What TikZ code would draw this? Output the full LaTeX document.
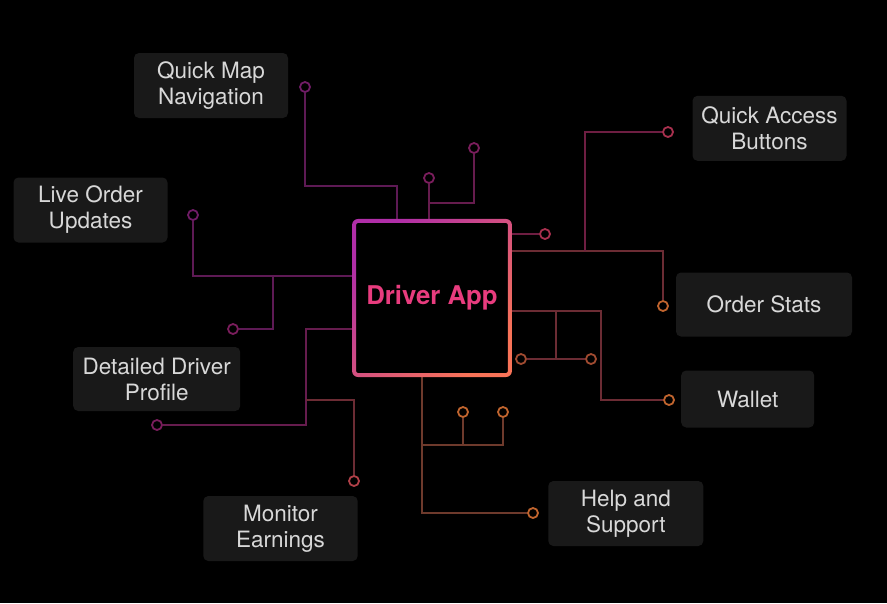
\documentclass[tikz,border=0pt]{standalone}
\usepackage{fontspec}
\setmainfont{TeX Gyre Heros}
\usetikzlibrary{calc}
\definecolor{boxbg}{HTML}{191919}
\definecolor{txt}{HTML}{D8D8D8}
\definecolor{apptxt}{HTML}{E83C7E}
\definecolor{gA}{HTML}{B02EA8}
\definecolor{gB}{HTML}{E8357D}
\definecolor{gC}{HTML}{F87358}
\definecolor{wPurple}{HTML}{5E1A55}
\definecolor{wPlum}{HTML}{661C4E}
\definecolor{wWine}{HTML}{6E1E42}
\definecolor{wRust}{HTML}{6C2C34}
\definecolor{wBrown}{HTML}{6E3A2C}
\definecolor{cPurple}{HTML}{701C66}
\definecolor{cPlum}{HTML}{7A1D5C}
\definecolor{cRed}{HTML}{A8304E}
\definecolor{cRose}{HTML}{B04048}
\definecolor{cOrange}{HTML}{C0642E}
\definecolor{cBrown}{HTML}{A04A30}
\tikzset{
  lbl/.style={fill=boxbg, rounded corners=5pt, text=txt, align=center,
    font=\fontsize{22.5}{26}\selectfont, inner sep=0pt},
  dot/.style={circle, draw=#1, line width=1.8pt, minimum size=10pt, inner sep=0pt, fill=black},
  wire/.style={draw=#1, line width=2pt}
}
\begin{document}
\begin{tikzpicture}[x=1pt,y=-1pt]
\fill[black] (0,0) rectangle (887,603);
\useasboundingbox (0,0) rectangle (887,603);

% central node
\node[minimum width=155.4pt, minimum height=153.7pt, inner sep=0pt, text=apptxt,
  font=\fontsize{25.8}{30}\selectfont\bfseries] (app) at (432,298) {Driver App};

% labels
\node[lbl, minimum width=154pt, minimum height=65pt] (qmn) at (211,85.5) {Quick Map\\Navigation};
\node[lbl, minimum width=154pt, minimum height=65pt] (lou) at (90.5,210) {Live Order\\Updates};
\node[lbl, minimum width=167pt, minimum height=64pt] (ddp) at (156.7,379) {Detailed Driver\\Profile};
\node[lbl, minimum width=154pt, minimum height=65pt] (qab) at (769.5,128.3) {Quick Access\\Buttons};
\node[lbl, minimum width=176pt, minimum height=64pt] (ost) at (764,304.5) {Order Stats};
\node[lbl, minimum width=133pt, minimum height=57pt] (wal) at (747.7,399) {Wallet};
\node[lbl, minimum width=155pt, minimum height=65pt] (has) at (625.8,513.5) {Help and\\Support};
\node[lbl, minimum width=154.4pt, minimum height=65pt] (mea) at (280.5,528.5) {Monitor\\Earnings};

% end dots
\node[dot=cPurple] (c1) at (305,87) {};
\node[dot=cPlum] (c2) at (429,178) {};
\node[dot=cPlum] (c3) at (474,148) {};
\node[dot=cRed] (c4) at (545,234) {};
\node[dot=cOrange] (c5) at (663,306) {};
\node[dot=cRed] (c6) at (668,132) {};
\node[dot=cOrange] (c7) at (669,400) {};
\node[dot=cBrown] (c8) at (521,359) {};
\node[dot=cBrown] (c9) at (591,359) {};
\node[dot=cOrange] (c10) at (533,513) {};
\node[dot=cOrange] (c11) at (463,412) {};
\node[dot=cOrange] (c12) at (503,412) {};
\node[dot=cPurple] (c13) at (193,215) {};
\node[dot=cPlum] (c14) at (233,329) {};
\node[dot=cPlum] (c15) at (157,425) {};
\node[dot=cRose] (c16) at (354,481) {};

% junction coordinates
\coordinate (j1) at (397,186);
\coordinate (j2) at (429,203);
\coordinate (r1) at (585,251);
\coordinate (r2) at (556,311);
\coordinate (r3) at (601,311);
\coordinate (b1) at (422,445);
\coordinate (l1) at (273,276);
\coordinate (l2) at (306,329);
\coordinate (l3) at (306,400);

% wires
\draw[wire=wPurple] (c1.south) |- (j1) -- (j1 |- app.north);
\draw[wire=wPlum] (c2.south) -- (c2 |- app.north);
\draw[wire=wPlum] (j2) -| (c3.south);
\draw[wire=wWine] (c4.west) -- (c4 -| app.east);
\draw[wire=wRust] (r1 -| app.east) -| (c5.north);
\draw[wire=wWine] (r1) |- (c6.west);
\draw[wire=wRust] (r3 -| app.east) -- (r3) |- (c7.west);
\draw[wire=wRust] (c8.east) -- (c9.west);
\draw[wire=wRust] (r2) -- (r2 |- c8);
\draw[wire=wBrown] (b1 |- app.south) |- (c10.west);
\draw[wire=wBrown] (b1) -| (c12.south);
\draw[wire=wBrown] (c11.south) -- (c11 |- b1);
\draw[wire=wPurple] (l1 -| app.west) -| (c13.south);
\draw[wire=wPurple] (l1) |- (c14.east);
\draw[wire=wPlum] (l2 -| app.west) -- (l2) |- (c15.east);
\draw[wire=wRust] (l3) -| (c16.north);

% gradient border of the central box
\shade[even odd rule, top color=gA, middle color=gB, bottom color=gC, shading angle=45]
  [rounded corners=6pt] ([shift={(-2,-2)}]app.north west) rectangle ([shift={(2,2)}]app.south east)
  [rounded corners=2pt] ([shift={(2,2)}]app.north west) rectangle ([shift={(-2,-2)}]app.south east);
\end{tikzpicture}
\end{document}
